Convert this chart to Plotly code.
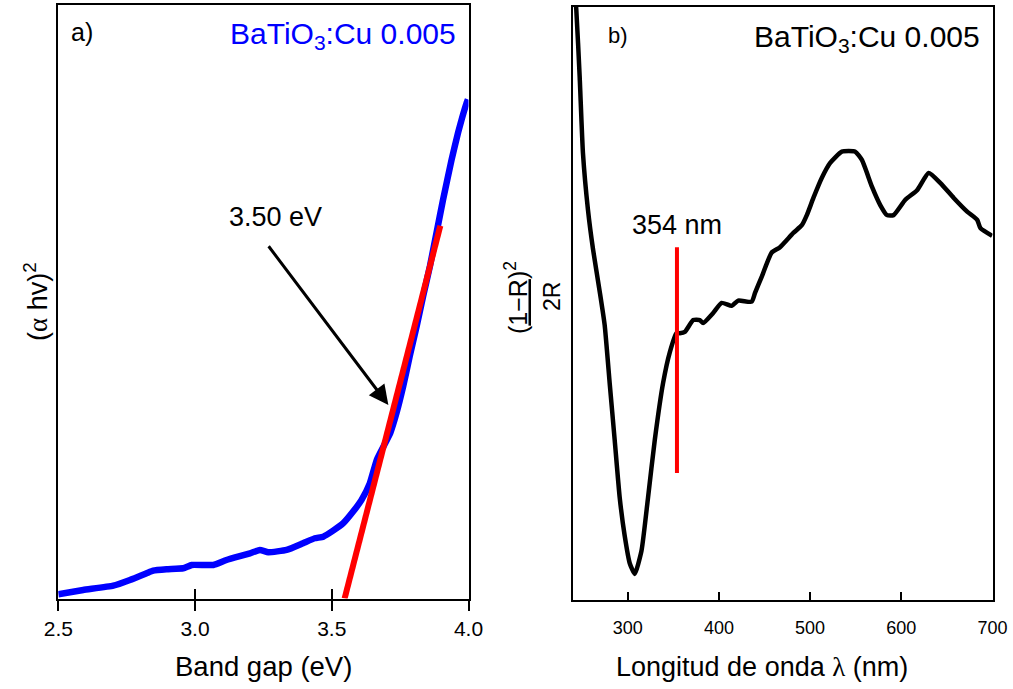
import plotly.graph_objects as go

W, H = 1013, 689
FONT = "Liberation Sans, Arial, Helvetica, sans-serif"

# ---------------- Panel a) Tauc plot ----------------
gap_x = [2.500, 2.591, 2.701, 2.762, 2.823, 2.847, 2.896, 2.957, 2.988, 3.067,
         3.115, 3.201, 3.237, 3.268, 3.335, 3.395, 3.438, 3.469, 3.505, 3.542,
         3.578, 3.609, 3.639, 3.665, 3.714, 3.737, 3.761, 3.785, 3.810, 3.834,
         3.859, 3.883, 3.907, 3.938, 3.962, 3.993, 3.998]
gap_y = [0.71, 1.43, 2.16, 3.12, 4.25, 4.69, 4.92, 5.09, 5.65, 5.65,
         6.49, 7.62, 8.18, 7.79, 8.18, 9.31, 10.15, 10.42, 11.43, 12.68,
         14.64, 16.61, 19.4, 23.4, 27.9, 31.3, 35.7, 40.8, 45.8, 50.9,
         56.0, 61.6, 67.2, 73.9, 78.5, 83.5, 84.1]
fit_x = [3.547, 3.897]
fit_y = [0.0, 62.8]
gap_ticks = [2.5, 3.0, 3.5, 4.0]
gap_ticktext = ["2.5", "3.0", "3.5", "4.0"]
arrow_tail = (3.265, 59.6)
arrow_head = (3.707, 32.6)
gap_label = "3.50 eV"

# ---------------- Panel b) reflectance ----------------
wl_x = [240.0, 243.6, 247.3, 250.9, 256.4, 261.9, 269.2, 274.7, 280.2, 285.7,
        291.2, 296.7, 302.2, 307.7, 315.1, 322.3, 329.7, 338.8, 346.2, 353.5,
        357.1, 362.6, 371.8, 379.1, 382.7, 393.7, 403.0, 414.0, 421.2, 435.9,
        439.6, 446.9, 457.9, 467.0, 481.6, 490.9, 496.4, 503.6, 512.9, 522.0,
        534.8, 549.5, 556.8, 567.8, 576.9, 584.3, 591.5, 604.4, 617.3, 630.0,
        642.9, 657.5, 672.2, 683.2, 686.8, 699.6]
wl_y = [106.0, 99.6, 88.3, 75.4, 65.8, 59.2, 52.1, 46.4, 36.6, 27.0,
        17.3, 10.8, 6.2, 4.4, 8.3, 17.3, 27.0, 36.6, 41.8, 45.0,
        45.0, 45.2, 47.2, 47.2, 46.7, 48.4, 50.1, 49.6, 50.5, 50.3,
        51.8, 54.5, 58.6, 59.5, 61.9, 63.2, 64.9, 67.8, 71.2, 73.7,
        75.6, 75.6, 74.2, 69.7, 66.6, 64.9, 64.9, 67.5, 69.1, 72.0,
        70.3, 67.8, 65.5, 64.1, 62.7, 61.4]
edge_x = [354, 354]
edge_y = [21.4, 59.5]
wl_ticks = [300, 400, 500, 600, 700]
edge_label = "354 nm"
sample = "BaTiO<sub>3</sub>:Cu 0.005"

# panel geometry (paper fractions)
ax_dom = [58.3 / W, 468.5 / W]
ay_dom = [1 - 598.5 / H, 1 - 5 / H]
bx_dom = [573 / W, 992.5 / W]
by_dom = [1 - 600 / H, 1 - 7 / H]

fig = go.Figure()
fig.add_trace(go.Scatter(x=gap_x, y=gap_y, mode="lines",
                         line=dict(color="#0000ff", width=6.5, shape="spline", smoothing=0.4),
                         xaxis="x", yaxis="y", showlegend=False))
fig.add_trace(go.Scatter(x=fit_x, y=fit_y, mode="lines",
                         line=dict(color="#ff0000", width=6),
                         xaxis="x", yaxis="y", showlegend=False))
fig.add_trace(go.Scatter(x=[], y=[], xaxis="x3", yaxis="y", showlegend=False))
fig.add_trace(go.Scatter(x=wl_x, y=wl_y, mode="lines",
                         line=dict(color="#000000", width=4.5, shape="spline", smoothing=0.5),
                         xaxis="x2", yaxis="y2", showlegend=False))
fig.add_trace(go.Scatter(x=edge_x, y=edge_y, mode="lines",
                         line=dict(color="#ff0000", width=4),
                         xaxis="x2", yaxis="y2", showlegend=False))

common_line = dict(showline=True, mirror=True, linecolor="black", linewidth=2,
                   showgrid=False, zeroline=False)

fig.update_layout(
    width=W, height=H,
    margin=dict(l=0, r=0, t=0, b=0, pad=0, autoexpand=False),
    paper_bgcolor="white", plot_bgcolor="white",
    font=dict(family=FONT, color="black"),
    xaxis=dict(domain=ax_dom, range=[2.5, 4.0], anchor="y",
               tickvals=gap_ticks, ticktext=gap_ticktext,
               ticks="outside", ticklen=10, tickwidth=2, tickcolor="black",
               ticklabelstandoff=0, automargin=False,
               tickfont=dict(size=21, family=FONT, color="black"), **common_line),
    xaxis3=dict(domain=ax_dom, range=[2.5, 4.0], anchor="y", overlaying="x",
                tickvals=gap_ticks, ticks="inside", ticklen=10, tickwidth=2,
                tickcolor="black", showticklabels=False, showline=False,
                showgrid=False, zeroline=False, automargin=False),
    yaxis=dict(domain=ay_dom, range=[0, 100], anchor="x", ticks="",
               showticklabels=False, automargin=False, **common_line),
    xaxis2=dict(domain=bx_dom, range=[240, 700], anchor="y2",
                tickvals=wl_ticks, ticks="inside", ticklen=8, tickwidth=2,
                tickcolor="black", ticklabelstandoff=10, automargin=False,
                tickfont=dict(size=18, family=FONT, color="black"), **common_line),
    yaxis2=dict(domain=by_dom, range=[0, 100], anchor="x2", ticks="",
                showticklabels=False, automargin=False, **common_line),
)

ann = []
# panel a texts
ann.append(dict(xref="paper", yref="paper", x=69 / W, y=1 - 32 / H,
                xanchor="left", yanchor="middle", showarrow=False,
                text="a)", font=dict(size=25, color="black")))
ann.append(dict(xref="paper", yref="paper", x=458 / W, y=1 - 35 / H,
                xanchor="right", yanchor="middle", showarrow=False,
                text=sample, font=dict(size=30, color="#0000ff")))
ann.append(dict(xref="x", yref="y", x=arrow_tail[0] + 0.028, y=arrow_tail[1] + 4.6,
                xanchor="center", yanchor="middle", showarrow=False,
                text=gap_label, font=dict(size=27, color="black")))
ann.append(dict(xref="x", yref="y", x=arrow_head[0], y=arrow_head[1],
                axref="x", ayref="y", ax=arrow_tail[0], ay=arrow_tail[1],
                text="", showarrow=True, arrowhead=2, arrowsize=1.3,
                arrowwidth=3, arrowcolor="black", standoff=0, startstandoff=0))
ann.append(dict(xref="paper", yref="paper", x=263 / W, y=1 - 666 / H,
                xanchor="center", yanchor="middle", showarrow=False,
                text="Band gap (eV)", font=dict(size=27.5, color="black")))
ann.append(dict(xref="paper", yref="paper", x=36 / W, y=1 - 302 / H,
                xanchor="center", yanchor="middle", showarrow=False, textangle=-90,
                text="(<span style='font-family:Liberation Serif'>α</span> hv)<sup>2</sup>",
                font=dict(size=27, color="black")))
# panel b texts
ann.append(dict(xref="paper", yref="paper", x=606 / W, y=1 - 36 / H,
                xanchor="left", yanchor="middle", showarrow=False,
                text="b)", font=dict(size=22, color="black")))
ann.append(dict(xref="paper", yref="paper", x=982 / W, y=1 - 39 / H,
                xanchor="right", yanchor="middle", showarrow=False,
                text=sample, font=dict(size=30, color="black")))
ann.append(dict(xref="x2", yref="paper", x=edge_x[0], y=1 - 225 / H,
                xanchor="center", yanchor="middle", showarrow=False,
                text=edge_label, font=dict(size=27, color="black")))
ann.append(dict(xref="paper", yref="paper", x=762 / W, y=1 - 667 / H,
                xanchor="center", yanchor="middle", showarrow=False,
                text="Longitud de onda <span style='font-family:Liberation Serif'>λ</span> (nm)",
                font=dict(size=27, color="black")))
ann.append(dict(xref="paper", yref="paper", x=516 / W, y=1 - 298 / H,
                xanchor="center", yanchor="middle", showarrow=False, textangle=-90,
                text="(<u>1−R</u>)<sup>2</sup>", font=dict(size=25, color="black")))
ann.append(dict(xref="paper", yref="paper", x=552 / W, y=1 - 297 / H,
                xanchor="center", yanchor="middle", showarrow=False, textangle=-90,
                text="2R", font=dict(size=23, color="black")))
fig.update_layout(annotations=ann)

fig.write_html("out.html")
